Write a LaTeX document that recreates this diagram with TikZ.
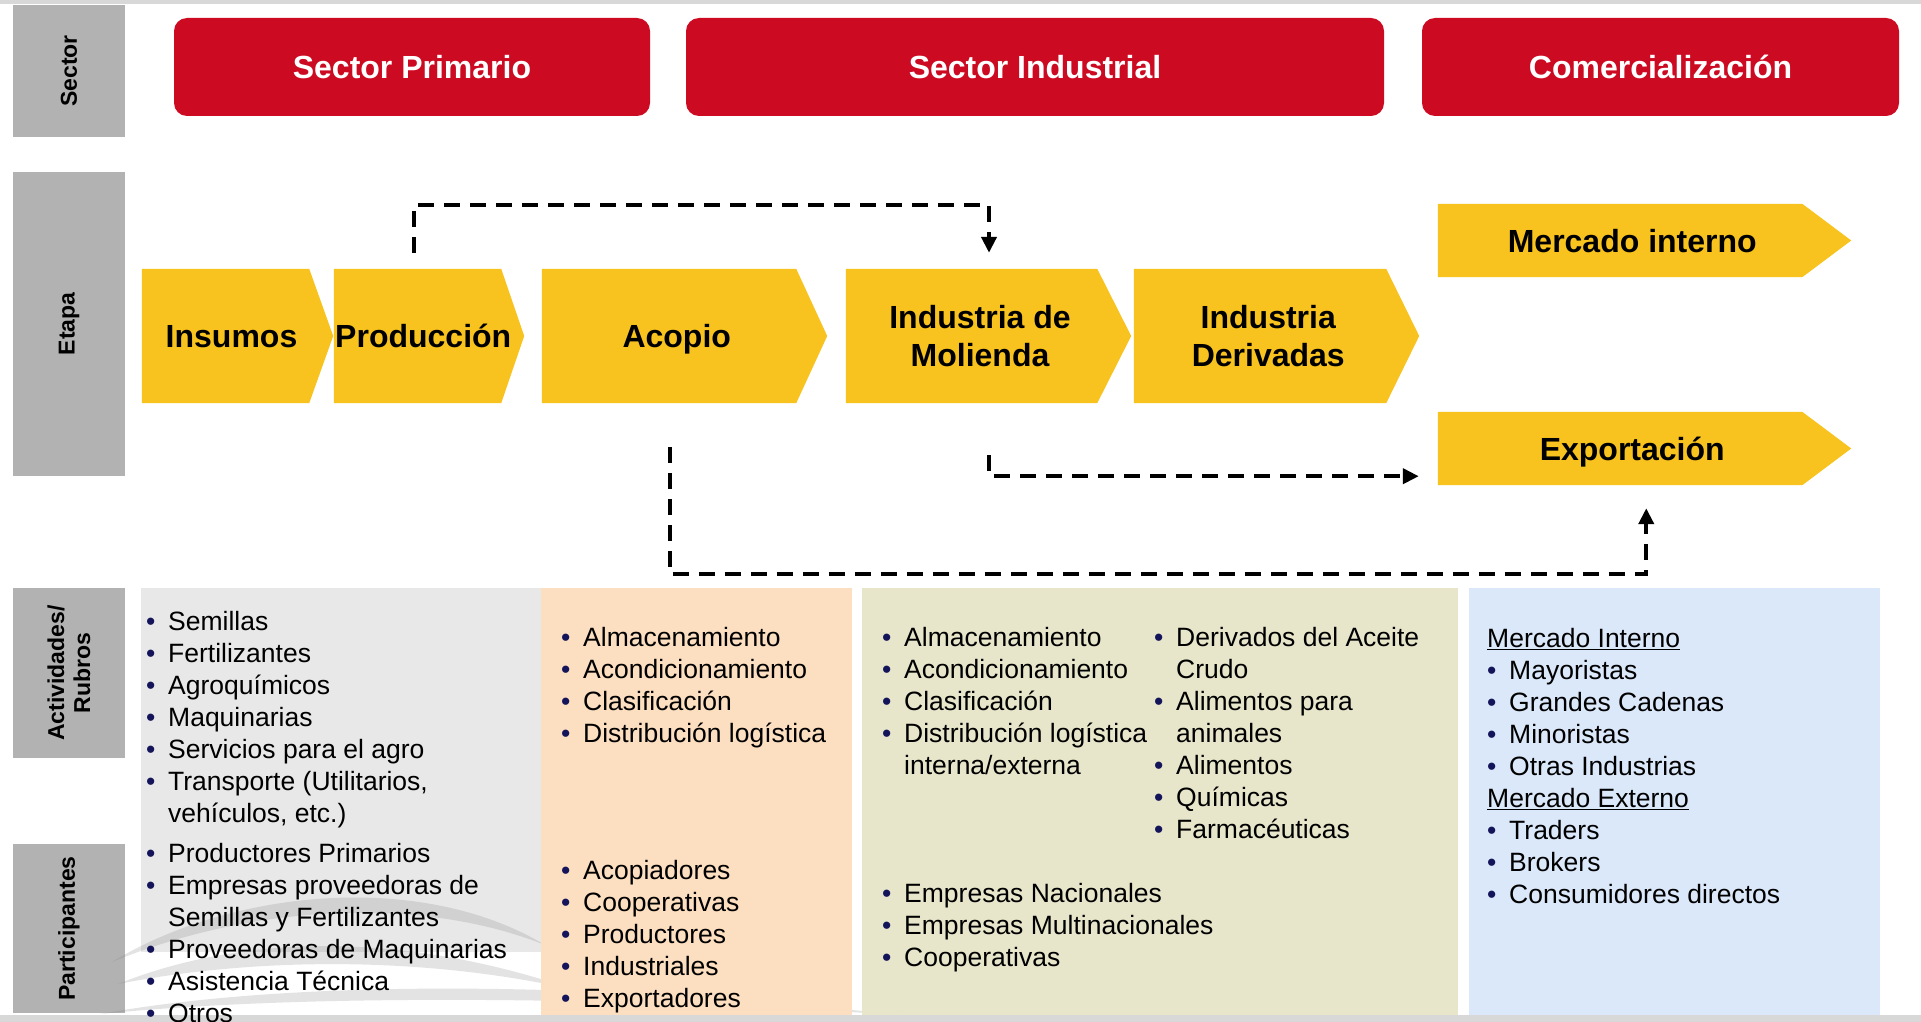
\documentclass[tikz,border=0pt]{standalone}
\usepackage{fontspec}
\setmainfont{Liberation Sans}
\usetikzlibrary{arrows.meta,backgrounds}

\definecolor{secred}{RGB}{204,10,34}
\definecolor{amber}{RGB}{248,195,30}
\definecolor{lblgray}{RGB}{178,178,178}
\definecolor{pnlgray}{RGB}{232,232,232}
\definecolor{pnlorange}{RGB}{252,222,192}
\definecolor{pnlolive}{RGB}{231,229,202}
\definecolor{pnlblue}{RGB}{218,232,250}
\definecolor{navy}{RGB}{20,20,90}
\definecolor{rulegray}{RGB}{216,216,216}

\newcommand{\itm}{\makebox[22pt][l]{\textcolor{navy}{\textbullet}}}
\newcommand{\cont}{\hspace*{22pt}}

\tikzset{
  sidelbl/.style={fill=lblgray, rotate=90, inner sep=0pt, align=center, font=\fontsize{23}{26}\selectfont\bfseries},
  sectorbox/.style={fill=secred, rounded corners=13pt, inner sep=0pt, minimum height=98pt, text=white, font=\fontsize{32}{38}\selectfont\bfseries},
  stage/.style={inner sep=0pt, align=center, font=\fontsize{32}{38}\selectfont\bfseries},
  oneline/.style={text height=23pt, text depth=0pt},
  items/.style={anchor=north west, inner sep=0pt, align=left, font=\fontsize{26.5}{32}\selectfont},
  flow/.style={line width=4pt, dash pattern=on 16pt off 10pt, -{Triangle[length=16pt,width=15pt]}},
  swoosh/.style={fill=gray, opacity=0.22},
}

\begin{document}
\begin{tikzpicture}[x=1pt, y=-1pt]
	\useasboundingbox (0,0) rectangle (1921,1022);
	% frame lines
	\fill[rulegray] (0,0) rectangle (1921,4);
	\fill[rulegray] (0,1015) rectangle (1921,1022);

	% row labels
	\node[sidelbl, minimum width=132pt, minimum height=112pt] (lsector) at (69,71) {Sector};
	\node[sidelbl, minimum width=304pt, minimum height=112pt] (letapa) at (69,324) {Etapa};
	\node[sidelbl, minimum width=170pt, minimum height=112pt] (lactiv) at (69,673) {Actividades/\\Rubros};
	\node[sidelbl, minimum width=169pt, minimum height=112pt] (lpart) at (69,928.5) {Participantes};

	% sectors
	\node[sectorbox, minimum width=476pt] (sprim) at (412,67) {Sector Primario};
	\node[sectorbox, minimum width=698pt] (sind) at (1035,67) {Sector Industrial};
	\node[sectorbox, minimum width=477pt] (scom) at (1660.5,67) {Comercialización};

	% stages
	\node[stage, oneline, minimum width=179pt, minimum height=134pt] (ins) at (231.5,336) {Insumos};
	\node[stage, oneline, minimum width=178.5pt, minimum height=134pt] (prod) at (423.25,336) {Producción};
	\node[stage, oneline, minimum width=269.5pt, minimum height=134pt] (aco) at (676.75,336) {Acopio};
	\node[stage, minimum width=268pt, minimum height=134pt] (mol) at (980,336) {Industria de\\Molienda};
	\node[stage, minimum width=268.5pt, minimum height=134pt] (der) at (1268.25,336) {Industria\\Derivadas};
	\node[stage, oneline, minimum width=388.5pt, minimum height=73pt] (mer) at (1632.25,240.5) {Mercado interno};
	\node[stage, oneline, minimum width=388.5pt, minimum height=73pt] (exp) at (1632.25,448.5) {Exportación};

	\begin{pgfonlayer}{background}
		\fill[white] (0,0) rectangle (1921,1022);
		\foreach \n/\t in {ins/12,prod/11.5,aco/15.5,mol/17,der/16.5,mer/24.5,exp/24.5}
			\fill[amber] (\n.north west) -- ([xshift=-\t]\n.north east) -- ([xshift=\t]\n.east)
				-- ([xshift=-\t]\n.south east) -- (\n.south west) -- cycle;
	\end{pgfonlayer}

	% flows
	\draw[flow] ([xshift=-9pt,yshift=16pt]prod.north) -- ++(0,-48) -| ([xshift=9pt,yshift=16pt]mol.north);
	\draw[flow] ([xshift=9pt,yshift=-52pt]mol.south) |- ([xshift=-19pt,yshift=9pt]exp.south west);
	\draw[flow] ([xshift=-7pt,yshift=-44pt]aco.south) -- ++(0,127) -| ([xshift=14pt,yshift=-23pt]exp.south);

	% panels
	\fill[pnlgray] (141,588) rectangle (541,952);
	\fill[swoosh] (112,962) .. controls (230,890) and (420,870) .. (545,945) .. controls (420,895) and (250,905) .. (112,962);
	\fill[swoosh] (118,984) .. controls (240,935) and (400,930) .. (575,990) .. controls (420,955) and (250,958) .. (118,984);
	\fill[swoosh] (100,1014) .. controls (300,978) and (600,982) .. (900,1015) .. controls (600,996) and (300,994) .. (100,1014);
	\fill[pnlorange] (541,588) rectangle (852,1015);
	\fill[pnlolive] (862,588) rectangle (1458,1015);
	\fill[pnlblue] (1469,588) rectangle (1880,1015);

	% primario
	\node[items] (actpri) at (146,608) {\strut\itm Semillas\\ \itm Fertilizantes\\ \itm Agroquímicos\\ \itm Maquinarias\\ \itm Servicios para el agro\\ \itm Transporte (Utilitarios,\\ \cont vehículos, etc.)};
	\node[items] (parpri) at (146,840) {\strut\itm Productores Primarios\\ \itm Empresas proveedoras de\\ \cont Semillas y Fertilizantes\\ \itm Proveedoras de Maquinarias\\ \itm Asistencia Técnica\\ \itm Otros};
	% acopio
	\node[items] (actaco) at (561,624) {\strut\itm Almacenamiento\\ \itm Acondicionamiento\\ \itm Clasificación\\ \itm Distribución logística};
	\node[items] (paraco) at (561,857) {\strut\itm Acopiadores\\ \itm Cooperativas\\ \itm Productores\\ \itm Industriales\\ \itm Exportadores};
	% industria
	\node[items] (actind) at (882,624) {\strut\itm Almacenamiento\\ \itm Acondicionamiento\\ \itm Clasificación\\ \itm Distribución logística\\ \cont interna/externa};
	\node[items] (actder) at (1154,624) {\strut\itm Derivados del Aceite\\ \cont Crudo\\ \itm Alimentos para\\ \cont animales\\ \itm Alimentos\\ \itm Químicas\\ \itm Farmacéuticas};
	\node[items] (parind) at (882,880) {\strut\itm Empresas Nacionales\\ \itm Empresas Multinacionales\\ \itm Cooperativas};
	% comercializacion
	\node[items] (actcom) at (1487,625) {\strut\underline{Mercado Interno}\\ \itm Mayoristas\\ \itm Grandes Cadenas\\ \itm Minoristas\\ \itm Otras Industrias\\ \underline{Mercado Externo}\\ \itm Traders\\ \itm Brokers\\ \itm Consumidores directos};
\end{tikzpicture}
\end{document}
